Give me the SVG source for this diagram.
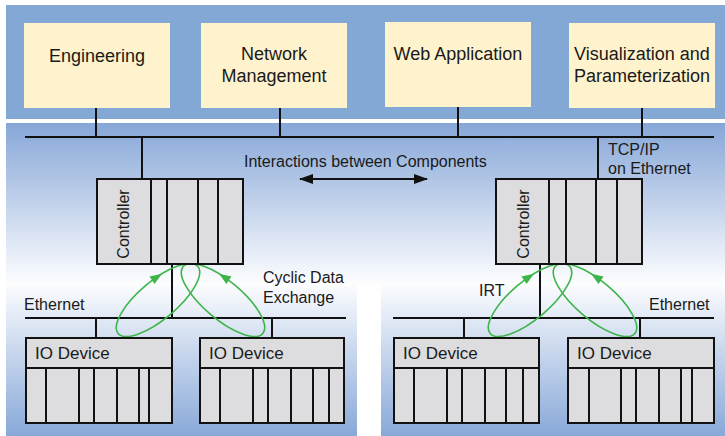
<svg xmlns="http://www.w3.org/2000/svg" xmlns:xlink="http://www.w3.org/1999/xlink" width="725" height="436" viewBox="0 0 725 436">
  <style>
    text { font-family: "Liberation Sans", Arial, sans-serif; fill: #1a1a1a; }
    .app { fill: #fff3cd; }
    .t18 { font-size: 18px; }
    .t17 { font-size: 17px; }
    .t16 { font-size: 16px; }
    .mid { text-anchor: middle; }
    .box { fill: #dddddf; stroke: #111; stroke-width: 2; }
    .div { stroke: #111; stroke-width: 2; fill: none; }
    .wire { stroke: #111; stroke-width: 2; fill: none; }
    .loop { fill: none; stroke: #3db54a; stroke-width: 1.6; }
    .loophead { fill: #3db54a; }
  </style>
  <defs>
    <linearGradient id="gTop" x1="0" y1="0" x2="0" y2="1">
      <stop offset="0" stop-color="#87a7d8"/>
      <stop offset="1" stop-color="#ffffff"/>
    </linearGradient>
    <linearGradient id="gBottom" x1="0" y1="0" x2="0" y2="1">
      <stop offset="0" stop-color="#fbfcfe"/>
      <stop offset="1" stop-color="#88a8d8"/>
    </linearGradient>
    <marker id="arrowEnd" viewBox="0 0 14 10" refX="13" refY="5" markerWidth="14" markerHeight="10" markerUnits="userSpaceOnUse" orient="auto-start-reverse">
      <path d="M0,0 L14,5 L0,10 Z" fill="#111"/>
    </marker>
    <!-- one half of the cyclic exchange loop: tilted ellipse with its arrowhead -->
    <g id="halfLoop">
      <ellipse class="loop" cx="0" cy="0" rx="52" ry="19" transform="translate(-32.5,0) rotate(-40)"/>
      <path class="loophead" d="M6,0 L-6,-4.5 L-6,4.5 Z" transform="translate(-33.5,-23) rotate(-34)"/>
    </g>
  </defs>

  <!-- background bands -->
  <rect x="6" y="5" width="719" height="114" fill="#84a8d6"/>
  <rect x="6" y="123" width="719" height="164" fill="url(#gTop)"/>
  <rect x="6" y="285" width="351" height="151" fill="url(#gBottom)"/>
  <rect x="381" y="285" width="344" height="151" fill="url(#gBottom)"/>

  <!-- connectors -->
  <g id="connectors">
    <!-- TCP/IP backbone -->
    <line class="wire" x1="25" y1="137" x2="714" y2="137"/>
    <line class="wire" x1="96" y1="108" x2="96" y2="137"/>
    <line class="wire" x1="280" y1="108" x2="280" y2="137"/>
    <line class="wire" x1="458" y1="107" x2="458" y2="137"/>
    <line class="wire" x1="642" y1="108" x2="642" y2="137"/>
    <line class="wire" x1="142" y1="137" x2="142" y2="179"/>
    <line class="wire" x1="598" y1="137" x2="598" y2="179"/>
    <!-- interactions arrow -->
    <line class="wire" x1="300" y1="179" x2="427" y2="179" marker-start="url(#arrowEnd)" marker-end="url(#arrowEnd)"/>
    <!-- left Ethernet segment -->
    <line class="wire" x1="25" y1="318" x2="346" y2="318"/>
    <line class="wire" x1="172" y1="264" x2="172" y2="318"/>
    <line class="wire" x1="96" y1="318" x2="96" y2="338"/>
    <line class="wire" x1="272" y1="318" x2="272" y2="338"/>
    <!-- right Ethernet segment -->
    <line class="wire" x1="393" y1="318" x2="714" y2="318"/>
    <line class="wire" x1="540" y1="264" x2="540" y2="318"/>
    <line class="wire" x1="464" y1="318" x2="464" y2="338"/>
    <line class="wire" x1="640" y1="318" x2="640" y2="338"/>
    <!-- cyclic data exchange loops -->
    <g id="loopsLeft" transform="translate(190.5,300)">
      <use xlink:href="#halfLoop"/>
      <use xlink:href="#halfLoop" transform="scale(-1,1)"/>
    </g>
    <!-- IRT loops -->
    <g id="loopsRight" transform="translate(562.5,300)">
      <use xlink:href="#halfLoop"/>
      <use xlink:href="#halfLoop" transform="scale(-1,1)"/>
    </g>
  </g>

  <!-- application nodes -->
  <g id="engineering">
    <rect class="app" x="24" y="23" width="146" height="85"/>
    <text class="t18 mid" x="97" y="62">Engineering</text>
  </g>
  <g id="network-management">
    <rect class="app" x="201" y="23" width="146" height="85"/>
    <text class="t18 mid" x="274" y="60">Network</text>
    <text class="t18 mid" x="274" y="82">Management</text>
  </g>
  <g id="web-application">
    <rect class="app" x="385" y="22" width="146" height="85"/>
    <text class="t18 mid" x="458" y="60">Web Application</text>
  </g>
  <g id="visualization">
    <rect class="app" x="569" y="23" width="146" height="85"/>
    <text class="t18 mid" x="642" y="60">Visualization and</text>
    <text class="t18 mid" x="642" y="82">Parameterization</text>
  </g>

  <!-- controllers -->
  <g id="controller-left">
    <rect class="box" x="97" y="179" width="146" height="85"/>
    <path class="div" d="M151,179V264 M167,179V264 M198,179V264 M218,179V264"/>
    <text class="t16 mid" transform="translate(129,224) rotate(-90)">Controller</text>
  </g>
  <g id="controller-right">
    <rect class="box" x="496" y="179" width="146" height="85"/>
    <path class="div" d="M549,179V264 M566,179V264 M596,179V264 M617,179V264"/>
    <text class="t16 mid" transform="translate(529,224) rotate(-90)">Controller</text>
  </g>

  <!-- IO devices -->
  <g id="io-device-1">
    <rect class="box" x="26" y="338" width="146" height="85"/>
    <path class="div" d="M26,368H172 M46,368V423 M79,368V423 M94,368V423 M117,368V423 M139,368V423 M149,368V423"/>
    <text class="t17" x="35" y="359">IO Device</text>
  </g>
  <g id="io-device-2">
    <rect class="box" x="200" y="338" width="144" height="85"/>
    <path class="div" d="M200,368H344 M220,368V423 M253,368V423 M268,368V423 M291,368V423 M313,368V423 M329,368V423"/>
    <text class="t17" x="209" y="359">IO Device</text>
  </g>
  <g id="io-device-3">
    <rect class="box" x="394" y="338" width="145" height="85"/>
    <path class="div" d="M394,368H539 M414,368V423 M447,368V423 M462,368V423 M485,368V423 M506,368V423 M523,368V423"/>
    <text class="t17" x="403" y="359">IO Device</text>
  </g>
  <g id="io-device-4">
    <rect class="box" x="568" y="338" width="146" height="85"/>
    <path class="div" d="M568,368H714 M589,368V423 M621,368V423 M636,368V423 M659,368V423 M681,368V423 M692,368V423"/>
    <text class="t17" x="577" y="359">IO Device</text>
  </g>

  <!-- labels -->
  <g id="labels">
    <text class="t16" x="244" y="167">Interactions between Components</text>
    <text class="t16" x="608" y="155">TCP/IP</text>
    <text class="t16" x="608" y="174">on Ethernet</text>
    <text class="t16" x="263" y="283">Cyclic Data</text>
    <text class="t16" x="263" y="303">Exchange</text>
    <text class="t16" x="24" y="310">Ethernet</text>
    <text class="t16" x="479" y="296">IRT</text>
    <text class="t16" x="649" y="310">Ethernet</text>
  </g>
</svg>
